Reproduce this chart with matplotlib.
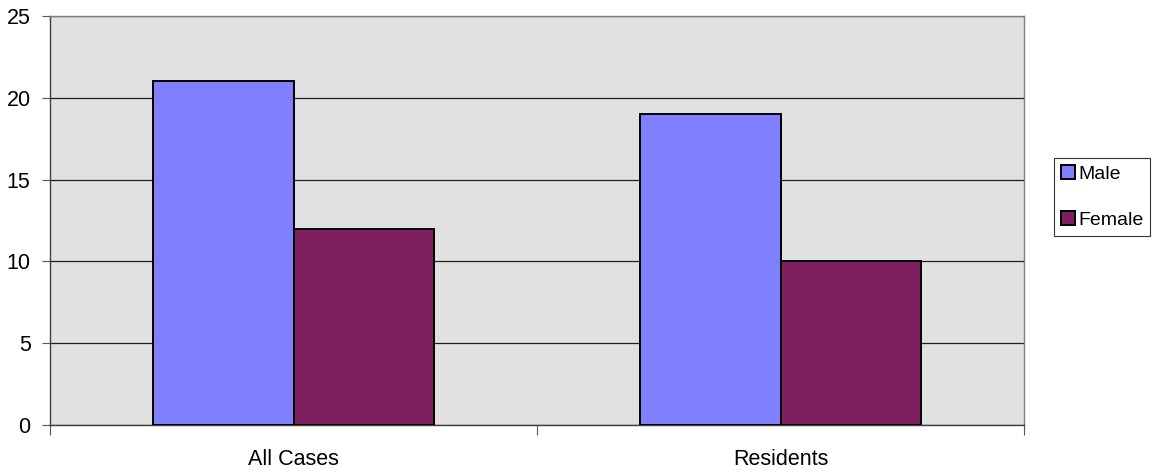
import matplotlib
matplotlib.use("Agg")
import matplotlib.pyplot as plt
import numpy as np

plt.rcParams['font.family'] = ['Liberation Sans', 'DejaVu Sans']

categories = ["All Cases", "Residents"]
series_names = ["Male", "Female"]
male = [21, 19]
female = [12, 10]
y_ticks = [0, 5, 10, 15, 20, 25]

colors = ["#8080FF", "#7F1F5F"]

fig = plt.figure(figsize=(11.55, 4.72), dpi=100)
ax = fig.add_axes([50 / 1155, 47 / 472, 974 / 1155, 409 / 472])
ax.set_facecolor("#E1E1E1")

x = np.arange(len(categories))
width = 0.2875
ax.bar(x - width / 2, male, width, color=colors[0], edgecolor="black", linewidth=1.4,
       label=series_names[0], zorder=3)
ax.bar(x + width / 2, female, width, color=colors[1], edgecolor="black", linewidth=1.4,
       label=series_names[1], zorder=3)

ax.set_xlim(-0.5, len(categories) - 0.5)
ax.set_ylim(0, 25)
ax.set_yticks(y_ticks)
ax.set_yticklabels([str(v) for v in y_ticks], fontsize=15.5)
ax.yaxis.grid(True, color="#202020", linewidth=0.9, zorder=0)
ax.set_axisbelow(True)

# category labels at centers, ticks at category boundaries
ax.set_xticks(np.arange(-0.5, len(categories), 1.0))
ax.set_xticklabels([])
ax.set_xticks(x, minor=True)
ax.set_xticklabels(categories, minor=True, fontsize=15.5)
ax.tick_params(axis="x", which="minor", length=0, pad=17)
ax.tick_params(axis="x", which="major", length=7, direction="out", color="#555555")
ax.tick_params(axis="y", length=6, direction="out", pad=8, color="#555555")

for s in ["top", "right"]:
    ax.spines[s].set_color("#808080")
    ax.spines[s].set_linewidth(1.0)
for s in ["left", "bottom"]:
    ax.spines[s].set_color("#404040")
    ax.spines[s].set_linewidth(1.0)

leg = ax.legend(loc="upper left", bbox_to_anchor=(1054 / 1155, (472 - 158) / 472),
                bbox_transform=fig.transFigure, frameon=True, fancybox=False,
                fontsize=14, handlelength=0.75, handleheight=0.75, handletextpad=0.15,
                borderpad=0.35, labelspacing=1.45, borderaxespad=0)
leg.get_frame().set_edgecolor("black")
leg.get_frame().set_linewidth(0.8)

fig.savefig("out.png", dpi=100)
